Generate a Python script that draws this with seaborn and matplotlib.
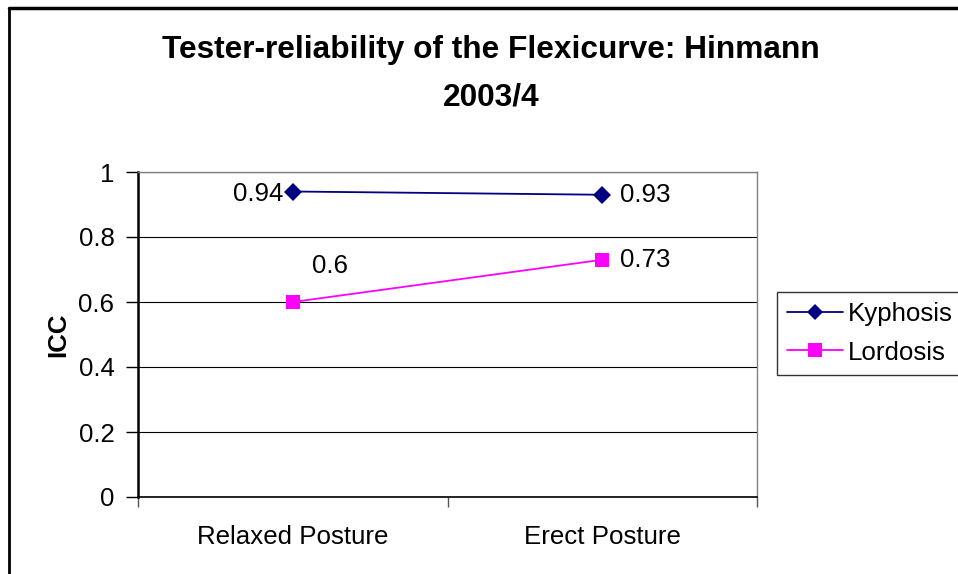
import matplotlib
matplotlib.use("Agg")
import matplotlib.pyplot as plt
import numpy as np
import pandas as pd
import seaborn as sns
from matplotlib.lines import Line2D

postures = ["Relaxed Posture", "Erect Posture"]
kyphosis = [0.94, 0.93]
lordosis = [0.60, 0.73]
series = ["Kyphosis", "Lordosis"]
colors = {"Kyphosis": "#000080", "Lordosis": "#FF00FF"}
markers = {"Kyphosis": "D", "Lordosis": "s"}

data = pd.DataFrame({
    "Posture": postures * 2,
    "ICC": kyphosis + lordosis,
    "Series": [series[0]] * 2 + [series[1]] * 2,
})

sns.set_style("white")
plt.rcParams["font.family"] = ["Liberation Sans", "DejaVu Sans"]
plt.rcParams["text.color"] = "black"
plt.rcParams["xtick.color"] = "black"
plt.rcParams["ytick.color"] = "black"
plt.rcParams["axes.labelcolor"] = "black"

fs = 18.6

fig = plt.figure(figsize=(9.58, 5.74), dpi=100)
ax = fig.add_axes([138 / 958, 1 - 497 / 574, (757 - 138) / 958, (497 - 172) / 574])

sns.lineplot(data=data, x="Posture", y="ICC", hue="Series", style="Series",
             palette=colors, markers=markers, dashes=False, markersize=9.5,
             linewidth=1.3, markeredgewidth=0, ax=ax, legend=False)

ax.set_xlim(-0.5, 1.5)
ax.set_ylim(0, 1)
ax.set_yticks(np.arange(0, 1.01, 0.2))
ax.set_yticklabels(["0", "0.2", "0.4", "0.6", "0.8", "1"])
ax.yaxis.grid(True, color="black", linewidth=0.8)
ax.set_axisbelow(True)

# category labels at centres, tick marks at the boundaries
ax.set_xticks([-0.5, 0.5, 1.5])
ax.set_xticklabels([])
ax.set_xticks([0, 1], minor=True)
ax.set_xticklabels(postures, minor=True)
ax.tick_params(axis="x", which="major", direction="out", length=7, width=1, color="#555555", bottom=True)
ax.tick_params(axis="x", which="minor", length=0, pad=20, labelsize=fs)
ax.tick_params(axis="y", direction="out", length=9, width=1, color="black", left=True, pad=8, labelsize=fs)

ax.set_xlabel("")
ax.set_ylabel("")
fig.text(58 / 958, 1 - 335 / 574, "ICC", rotation=90, ha="center", va="center",
         fontsize=fs, fontweight="bold")

for side in ["top", "right"]:
    ax.spines[side].set_color("#808080")
    ax.spines[side].set_linewidth(1)
ax.spines["left"].set_color("black")
ax.spines["left"].set_linewidth(1.8)
ax.spines["bottom"].set_color("black")
ax.spines["bottom"].set_linewidth(1.2)

# data labels
ax.annotate(f"{kyphosis[0]:g}", (0, kyphosis[0]), xytext=(-7, -2), textcoords="offset points",
            ha="right", va="center", fontsize=fs)
ax.annotate(f"{kyphosis[1]:g}", (1, kyphosis[1]), xytext=(13, 0), textcoords="offset points",
            ha="left", va="center", fontsize=fs)
ax.annotate(f"{lordosis[0]:g}", (0, lordosis[0]), xytext=(27, 26), textcoords="offset points",
            ha="center", va="center", fontsize=fs)
ax.annotate(f"{lordosis[1]:g}", (1, lordosis[1]), xytext=(13, 0), textcoords="offset points",
            ha="left", va="center", fontsize=fs)

# legend
handles = [Line2D([], [], color=colors[s], marker=markers[s], markersize=9.5 if s == "Lordosis" else 8.5,
                  markeredgewidth=0, linewidth=1.3) for s in series]
leg = fig.legend(handles, series, loc="upper left", bbox_to_anchor=(777 / 958, 1 - 292 / 574),
                 frameon=True, fancybox=False, fontsize=fs, handlelength=2.15,
                 handletextpad=0.2, borderpad=0.4, labelspacing=0.55, borderaxespad=0)
leg.get_frame().set_edgecolor("black")
leg.get_frame().set_linewidth(1)

# title
fig.text(491 / 958, 1 - 50 / 574, "Tester-reliability of the Flexicurve: Hinmann",
         ha="center", va="center", fontsize=22.8, fontweight="bold")
fig.text(491 / 958, 1 - 97 / 574, "2003/4", ha="center", va="center", fontsize=22.8, fontweight="bold")

# outer chart border
fig.add_artist(Line2D([9 / 958, 9 / 958], [0, 1 - 8 / 574], transform=fig.transFigure, color="black", linewidth=2))
fig.add_artist(Line2D([9 / 958, 1], [1 - 8 / 574, 1 - 8 / 574], transform=fig.transFigure, color="black", linewidth=2.5))

fig.savefig("out.png", dpi=100)
